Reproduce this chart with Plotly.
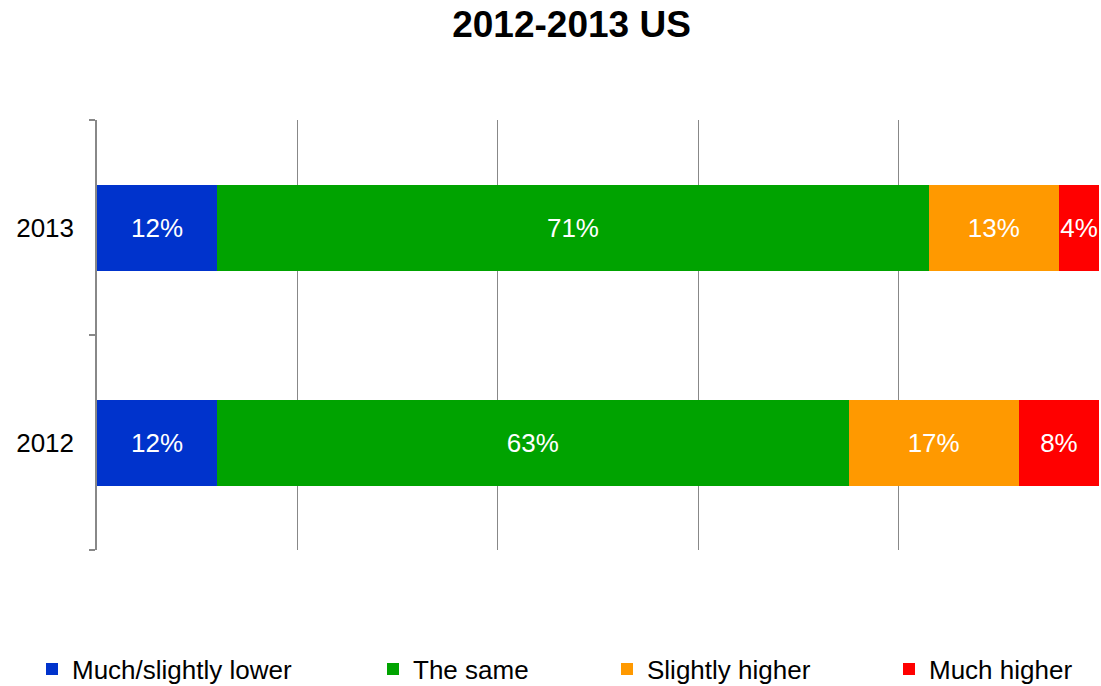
import plotly.graph_objects as go

# Survey shares per year (percent of respondents)
years = ["2012", "2013"]
lower = [12, 12]
same = [63, 71]
slightly_higher = [17, 13]
much_higher = [8, 4]

series_names = ["Much/slightly lower", "The same", "Slightly higher", "Much higher"]
series_values = [lower, same, slightly_higher, much_higher]
series_colors = ["#0033CC", "#00A300", "#FF9900", "#FF0000"]

FONT = "Liberation Sans, Arial, sans-serif"

W, H = 1101, 686
ML, MR, MT, MB = 97, 2, 120, 136

# left edge (px) of each legend entry's text
legend_text_px = [72, 413, 647, 929]
legend_y_px = 669

fig = go.Figure()
legend_ids = ["legend", "legend2", "legend3", "legend4"]
for name, vals, color, lid in zip(series_names, series_values, series_colors, legend_ids):
    fig.add_trace(go.Bar(
        y=years, x=vals, name=name, orientation="h",
        marker=dict(color=color, line=dict(width=0)),
        text=[f"{v}%" for v in vals],
        textposition="inside", insidetextanchor="middle", textangle=0,
        textfont=dict(color="white", size=26, family=FONT),
        constraintext="none",
        cliponaxis=False,
        legend=lid,
        hoverinfo="x+name",
    ))

layout_legends = {}
for lid, tx in zip(legend_ids, legend_text_px):
    layout_legends[lid] = dict(
        orientation="h",
        xref="container", x=(tx - 40) / W, xanchor="left",
        yref="container", y=(H - legend_y_px) / H, yanchor="middle",
        font=dict(size=26, family=FONT, color="black"),
        bgcolor="rgba(0,0,0,0)", borderwidth=0,
    )

fig.update_layout(
    width=W, height=H,
    margin=dict(l=ML, r=MR, t=MT, b=MB, autoexpand=False),
    barmode="stack",
    bargap=0.6,
    paper_bgcolor="white",
    plot_bgcolor="white",
    font=dict(family=FONT, color="black"),
    title=dict(
        text="<b>2012-2013 US</b>",
        x=571.5 / W, xanchor="center", xref="container",
        y=1 - 24 / H, yanchor="middle", yref="container",
        font=dict(size=37, family=FONT, color="black"),
    ),
    showlegend=True,
    uniformtext=dict(mode=False),
    **layout_legends,
)

fig.update_xaxes(
    range=[0, 100], dtick=20, showgrid=True, gridcolor="#888888", gridwidth=1.3,
    showticklabels=False, zeroline=False, showline=False, ticks="",
)
fig.update_yaxes(
    type="category", categoryorder="array", categoryarray=years,
    range=[-0.5, 1.5],
    showline=True, linecolor="#888888", linewidth=1.5,
    ticks="outside", tickson="boundaries", ticklen=6, tickcolor="#888888", tickwidth=1.5,
    ticklabelstandoff=16,
    tickfont=dict(size=26, family=FONT, color="black"),
    showgrid=False, zeroline=False,
)

fig.write_html("out.html")
